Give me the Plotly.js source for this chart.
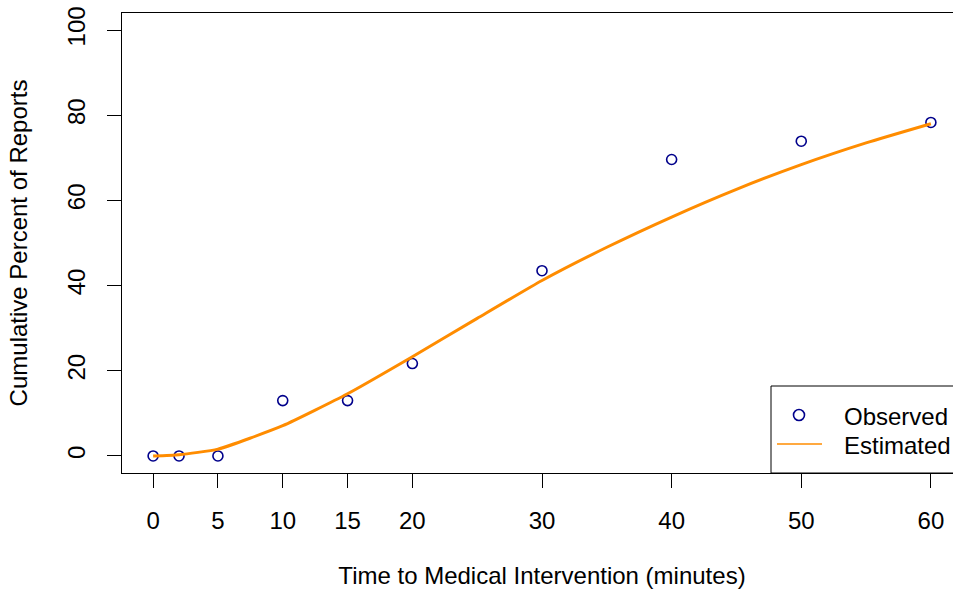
<!DOCTYPE html>
<html>
<head>
<meta charset="utf-8">
<script src="https://cdn.plot.ly/plotly-3.0.1.min.js"></script>
<style>
html, body { margin:0; padding:0; overflow:hidden; background:#fff; }
#chart { width:965px; height:591px; }
</style>
</head>
<body>
<div id="chart"></div>
<script>
// Observed data
var obsTime = [0, 2, 5, 10, 15, 20, 30, 40, 50, 60];
var obsPercent = [0, 0, 0, 13.0, 13.0, 21.7, 43.5, 69.6, 73.9, 78.3];
// Estimated curve
var estTime = [0, 2, 5, 10, 15, 20, 25, 30, 35, 40, 45, 50, 55, 60];
var estPercent = [0, 0.3, 1.6, 7.1, 14.6, 23.3, 32.3, 41.2, 49.0, 56.1, 62.6, 68.4, 73.5, 78.0];
// Axis ticks
var xTicks = [0, 5, 10, 15, 20, 30, 40, 50, 60];
var yTicks = [0, 20, 40, 60, 80, 100];
var legendLabels = ["Observed", "Estimated"];

var FONT = "Liberation Sans, Arial, Helvetica, sans-serif";
var OBS_COLOR = "#00008B";
var EST_COLOR = "#FF8C00";

var traces = [
  {
    x: obsTime, y: obsPercent, type: "scatter", mode: "markers", name: legendLabels[0],
    marker: { symbol: "circle-open", size: 10, color: OBS_COLOR, line: { width: 1.6, color: OBS_COLOR } },
    cliponaxis: false, hoverinfo: "x+y"
  },
  {
    x: estTime, y: estPercent, type: "scatter", mode: "lines", name: legendLabels[1],
    line: { color: EST_COLOR, width: 3, shape: "spline", smoothing: 0.5 },
    hoverinfo: "x+y"
  }
];

// plot area pixels: x 122..962, y 13..473
function px(p) { return (p - 122) / 840; }
function py(p) { return (473 - p) / 460; }

var layout = {
  width: 965, height: 591,
  margin: { l: 122, r: 3, t: 13, b: 118 },
  paper_bgcolor: "#fff", plot_bgcolor: "#fff",
  showlegend: false,
  font: { family: FONT, size: 24, color: "#000" },
  xaxis: {
    range: [-2.4, 62.4], tickmode: "array", tickvals: xTicks, ticktext: xTicks.map(String),
    ticks: "outside", ticklen: 14, tickwidth: 1, tickcolor: "#000",
    showline: true, mirror: true, linecolor: "#000", linewidth: 1,
    showgrid: false, zeroline: false, ticklabelstandoff: 12,
    tickfont: { family: FONT, size: 24, color: "#000" },
    title: { text: "Time to Medical Intervention (minutes)", font: { family: FONT, size: 24, color: "#000" }, standoff: 34 }
  },
  yaxis: {
    range: [-4, 104], tickmode: "array", tickvals: yTicks, ticktext: yTicks.map(String),
    ticks: "outside", ticklen: 14, tickwidth: 1, tickcolor: "#000", tickangle: -90,
    showline: true, mirror: true, linecolor: "#000", linewidth: 1,
    showgrid: false, zeroline: false, ticklabelstandoff: 12,
    tickfont: { family: FONT, size: 24, color: "#000" },
    title: { text: "Cumulative Percent of Reports", font: { family: FONT, size: 24, color: "#000" }, standoff: 29 }
  },
  shapes: [
    { type: "rect", xref: "paper", yref: "paper", x0: px(771), x1: 1.02, y0: 0, y1: py(386),
      line: { color: "#000", width: 1 }, fillcolor: "#fff", layer: "above" },
    { type: "circle", xref: "paper", yref: "paper", xsizemode: "pixel", ysizemode: "pixel",
      xanchor: px(799), yanchor: py(415), x0: -5.5, x1: 5.5, y0: -5.5, y1: 5.5,
      line: { color: OBS_COLOR, width: 1.6 }, layer: "above" },
    { type: "line", xref: "paper", yref: "paper", x0: px(777), x1: px(822), y0: py(444), y1: py(444),
      line: { color: EST_COLOR, width: 1.5 }, layer: "above" }
  ],
  annotations: [
    { xref: "paper", yref: "paper", x: px(842), y: py(416), xanchor: "left", yanchor: "middle",
      text: legendLabels[0], showarrow: false, font: { family: FONT, size: 24, color: "#000" } },
    { xref: "paper", yref: "paper", x: px(842), y: py(445), xanchor: "left", yanchor: "middle",
      text: legendLabels[1], showarrow: false, font: { family: FONT, size: 24, color: "#000" } }
  ]
};

Plotly.newPlot("chart", traces, layout, { displayModeBar: false, staticPlot: true });
</script>
</body>
</html>
